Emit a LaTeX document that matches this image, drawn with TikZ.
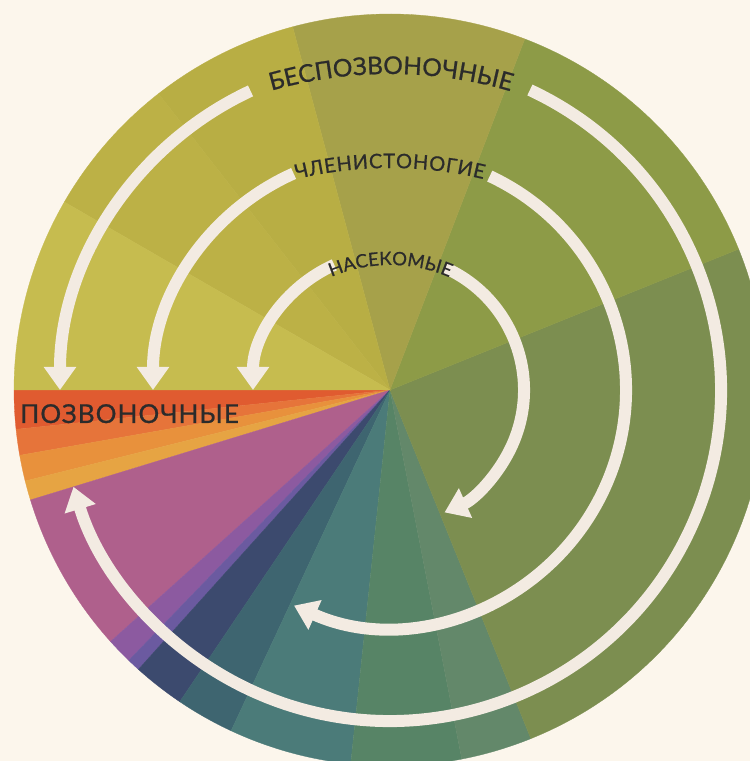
\documentclass[tikz,border=0pt]{standalone}
\usepackage{fontspec}
\setmainfont{Lato}
\newfontfamily\lbl[FakeBold=0.8]{Lato}
\newfontfamily\lblwide[LetterSpace=4,FakeBold=0.8]{Lato}
\usetikzlibrary{arrows.meta,decorations.text}
\definecolor{bg}{HTML}{FCF6EC}
\definecolor{arrowc}{HTML}{F3EBE2}
\definecolor{txt}{HTML}{2B2B2B}
\definecolor{cRed}{HTML}{E05B30}
\definecolor{cOrA}{HTML}{E6743A}
\definecolor{cOrB}{HTML}{E8913C}
\definecolor{cOrC}{HTML}{E6A443}
\definecolor{cMag}{HTML}{AF608C}
\definecolor{cPur}{HTML}{8C5AA0}
\definecolor{cVio}{HTML}{6B5AA0}
\definecolor{cNavy}{HTML}{3C4A6E}
\definecolor{cDTeal}{HTML}{3E6570}
\definecolor{cTeal}{HTML}{4B7B79}
\definecolor{cTGrA}{HTML}{578466}
\definecolor{cTGrB}{HTML}{63886A}
\definecolor{cGreen}{HTML}{7C8E50}
\definecolor{cOlvG}{HTML}{8D9B47}
\definecolor{cOlv}{HTML}{A6A14A}
\definecolor{cYlA}{HTML}{B8AE44}
\definecolor{cYlB}{HTML}{BCB146}
\definecolor{cYlC}{HTML}{C6BC4F}
\newcommand\pieslice[3]{\fill[#3, draw=#3, line width=0.3pt] (C) -- ++(#1:376) arc[start angle=#1,end angle=#2,radius=376] -- cycle;}
\begin{document}
\begin{tikzpicture}[x=1pt,y=1pt,
  flow/.style={draw=arrowc, line width=12pt, -{Triangle[width=31pt,length=23pt]}},
  arclabel/.style={decorate, decoration={text along path, text color=txt, text align={fit to path}}}
]
\useasboundingbox (0,0) rectangle (750,761);
\clip (0,0) rectangle (750,761);
\fill[bg] (0,0) rectangle (750,761);
\coordinate (C) at (390,371);
% pie sectors
\pieslice{-180}{-174}{cRed}
\pieslice{-174}{-170}{cOrA}
\pieslice{-170}{-166}{cOrB}
\pieslice{-166}{-163}{cOrC}
\pieslice{-163}{-138}{cMag}
\pieslice{-138}{-134}{cPur}
\pieslice{-134}{-132}{cVio}
\pieslice{-132}{-124}{cNavy}
\pieslice{-124}{-115}{cDTeal}
\pieslice{-115}{-96}{cTeal}
\pieslice{-96}{-79}{cTGrA}
\pieslice{-79}{-68}{cTGrB}
\pieslice{-68}{22}{cGreen}
\pieslice{22}{69}{cOlvG}
\pieslice{69}{105}{cOlv}
\pieslice{105}{128}{cYlA}
\pieslice{128}{150}{cYlB}
\pieslice{150}{180}{cYlC}
% arrows
\draw[flow] (C) ++(115:330) arc[start angle=115,end angle=180,radius=330];
\draw[flow] (C) ++(114:237) arc[start angle=114,end angle=180,radius=237];
\draw[flow] (C) ++(114:137) arc[start angle=114,end angle=180,radius=137];
\draw[flow] (C) ++(66:134) arc[start angle=66,end angle=-66,radius=134];
\draw[flow] (C) ++(65:236) arc[start angle=65,end angle=-114,radius=236];
\draw[flow] (C) ++(65:331) arc[start angle=65,end angle=-163,radius=331];
% curved labels
\coordinate (t1) at (390,257);
\coordinate (t2) at (390,193);
\coordinate (t3) at (390,346);
\path[arclabel, decoration={text={|\lbl\fontsize{24.5}{28}\selectfont|БЕСПОЗВОНОЧНЫЕ}}]
  (t1) ++(106:430) arc[start angle=106,end angle=74,radius=430];
\path[arclabel, decoration={text={|\lbl\fontsize{20}{24}\selectfont|ЧЛЕНИСТОНОГИЕ}}]
  (t2) ++(103.5:400) arc[start angle=103.5,end angle=76.5,radius=400];
\path[arclabel, decoration={text={|\lbl\fontsize{18.5}{22}\selectfont|НАСЕКОМЫЕ}}]
  (t3) ++(113:150) arc[start angle=113,end angle=67,radius=150];
% straight label
\node (vert) [anchor=base west, inner sep=0pt, text=txt, font=\lblwide\fontsize{26}{30}\selectfont] at (20,338) {ПОЗВОНОЧНЫЕ};
\end{tikzpicture}
\end{document}
